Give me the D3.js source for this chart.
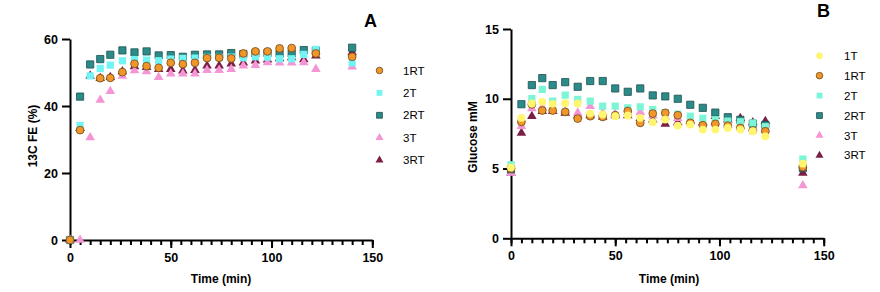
<!DOCTYPE html>
<html><head><meta charset="utf-8">
<script src="https://cdn.jsdelivr.net/npm/d3@7/dist/d3.min.js"></script>
<style>
body{margin:0;background:#fff;}
svg{display:block;font-family:"Liberation Sans",Arial,sans-serif;}
</style></head>
<body><svg id="c" width="880" height="292"></svg>
<script>
const times = [0,5,10,15,20,26,32,38,44,50,56,62,68,74,80,86,92,98,104,110,116,122,140];

// Panel A: 13C FE (%)
const seriesA = ["1RT","2T","2RT","3T","3RT"];
const A_1RT = [0,32.8,null,48.3,48.4,50.1,52.6,51.9,51.4,52.9,52.5,52.9,54.3,54.4,54.2,55.7,56.3,56.3,57.2,57.3,null,55.7,54.7];
const A_2T  = [0,34.2,49.0,51.2,52.2,53.5,53.9,53.7,53.5,54.0,54.2,54.3,54.5,54.5,54.6,54.4,54.7,54.6,54.1,54.1,55.4,56.9,52.9];
const A_2RT = [0,42.8,52.4,54.0,55.3,56.6,56.0,56.3,55.1,55.2,54.7,55.3,55.4,55.4,55.8,55.5,55.7,55.8,55.6,55.7,56.7,56.5,57.4];
const A_3T  = [0,0,30.6,41.8,44.4,49.0,50.6,50.3,48.6,49.6,49.6,49.6,50.7,50.7,51.0,52.0,52.2,53.0,52.9,52.9,53.0,51.0,51.7];
const A_3RT = [0,33.4,49.0,48.3,48.6,50.3,51.8,51.6,51.0,51.0,50.5,50.7,52.0,52.0,52.6,52.9,53.5,53.8,54.2,54.5,53.9,55.0,56.0];

// Panel B: Glucose mM
const seriesB = ["1T","1RT","2T","2RT","3T","3RT"];
const B_1T  = [5.08,8.63,9.66,9.78,9.64,9.68,9.66,8.94,8.87,8.75,8.8,8.63,8.32,8.51,8.08,8.15,7.79,7.79,7.91,7.79,7.67,7.31,5.35];
const B_1RT = [5.0,8.34,9.6,9.16,9.16,9.06,8.58,8.75,8.7,8.82,9.12,8.27,8.94,8.99,8.82,8.27,8.1,8.2,8.08,7.91,7.72,7.67,5.1];
const B_2T  = [5.27,8.4,10.02,10.67,9.83,10.26,9.95,9.83,9.47,9.47,9.35,9.42,9.23,9.0,8.9,8.75,8.6,8.5,8.4,8.35,8.27,8.0,5.68];
const B_2RT = [4.95,9.61,10.98,11.48,10.98,11.19,10.86,11.27,11.27,10.74,10.5,10.74,10.24,10.17,10.0,9.57,9.35,9.01,8.68,8.49,8.22,8.13,5.03];
const B_3T  = [4.68,8.03,9.3,9.4,9.2,9.1,8.99,9.47,9.0,8.9,9.0,9.04,8.8,8.7,8.6,8.4,8.3,8.3,8.1,8.0,7.9,7.8,3.78];
const B_3RT = [4.7,7.55,8.75,9.1,9.1,8.99,8.8,8.8,8.7,8.8,8.8,8.6,8.5,8.2,8.3,8.4,8.3,8.75,8.5,8.6,8.3,8.39,4.68];

const xTicks = [0,50,100,150];
const yTicksA = [0,20,40,60];
const yTicksB = [0,5,10,15];

const styles = {
  "1T":  {shape:"circle",  fill:"#FFF56E", stroke:"none"},
  "1RT": {shape:"circle",  fill:"#F2962A", stroke:"#6a4a1c"},
  "2T":  {shape:"square",  fill:"#72F4F4", stroke:"none"},
  "2RT": {shape:"square",  fill:"#2B8B89", stroke:"#1e4f4f"},
  "3T":  {shape:"triangle",fill:"#F496D6", stroke:"none"},
  "3RT": {shape:"triangle",fill:"#7A1F46", stroke:"none"}
};
const stylesB2T = {shape:"square", fill:"#7CF4D6", stroke:"none"};

const svg = d3.select("#c");

function sym(shape, size){
  const t = shape==="circle"?d3.symbolCircle:shape==="square"?d3.symbolSquare:d3.symbolTriangle;
  return d3.symbol().type(t).size(size)();
}

function panel(opt){
  const g = svg.append("g");
  const x = d3.scaleLinear().domain([0,150]).range(opt.xr);
  const y = d3.scaleLinear().domain(opt.yd).range(opt.yr);
  // minor x ticks
  g.append("g").attr("transform",`translate(0,${opt.yr[0]})`)
    .call(d3.axisBottom(x).tickValues(d3.range(0,151,5)).tickSize(5).tickSizeOuter(0).tickFormat(""))
    .call(a=>a.selectAll("line,path").attr("stroke","#000").attr("stroke-width",2));
  g.append("g").attr("transform",`translate(0,${opt.yr[0]})`)
    .call(d3.axisBottom(x).tickValues(xTicks).tickSize(8).tickSizeOuter(0).tickPadding(5))
    .call(a=>{a.select("path").remove();a.selectAll("line").attr("stroke","#000").attr("stroke-width",2);
      a.selectAll("text").attr("font-size",12.5).attr("font-weight","bold").attr("fill","#000");});
  g.append("g").attr("transform",`translate(${opt.xr[0]},0)`)
    .call(d3.axisLeft(y).tickValues(opt.yt).tickSize(8).tickSizeOuter(0).tickPadding(4))
    .call(a=>{a.selectAll("line,path").attr("stroke","#000").attr("stroke-width",2);
      a.selectAll("text").attr("font-size",12.5).attr("font-weight","bold").attr("fill","#000");});
  // axis titles
  g.append("text").attr("x",opt.xt[0]).attr("y",opt.xt[1]).attr("text-anchor","middle")
    .attr("font-size",12).attr("font-weight","bold").text("Time (min)");
  g.append("text").attr("transform",`translate(${opt.yl[0]},${opt.yl[1]}) rotate(-90)`).attr("text-anchor","middle")
    .attr("font-size",12).attr("font-weight","bold").text(opt.ylabel);
  g.append("text").attr("x",opt.letter[0]).attr("y",opt.letter[1]).attr("font-size",18).attr("font-weight","bold").text(opt.letterText);
  // data, first series drawn on top
  const ser = opt.series.slice().reverse();
  ser.forEach(s=>{
    const st = opt.style(s.name);
    const pts = times.map((t,i)=>({t,v:s.vals[i]})).filter(d=>d.v!=null);
    g.append("g").selectAll("path").data(pts).join("path")
      .attr("d", sym(st.shape, st.shape==="circle"?48:st.shape==="square"?52:40))
      .attr("transform",d=>`translate(${x(d.t)},${y(d.v)})`)
      .attr("fill",st.fill).attr("stroke",st.stroke).attr("stroke-width",st.stroke==="none"?0:0.8);
  });
  // legend
  opt.series.forEach((s,i)=>{
    const st = opt.style(s.name);
    const yy = opt.leg[1] + i*opt.leg[3];
    g.append("path").attr("d",sym(st.shape, st.shape==="circle"?34:st.shape==="square"?34:28))
      .attr("transform",`translate(${opt.leg[0]},${yy})`)
      .attr("fill",st.fill).attr("stroke",st.stroke).attr("stroke-width",st.stroke==="none"?0:0.8);
    g.append("text").attr("x",opt.leg[2]).attr("y",yy).attr("dy","0.35em")
      .attr("font-size",11.5).attr("fill","#000").text(s.name);
  });
}

panel({
  xr:[70,372.3], yd:[0,60], yr:[240,39], yt:yTicksA,
  xt:[221,283], yl:[37,136], ylabel:"13C FE (%)",
  letter:[364,27], letterText:"A",
  series:[{name:"1RT",vals:A_1RT},{name:"2T",vals:A_2T},{name:"2RT",vals:A_2RT},{name:"3T",vals:A_3T},{name:"3RT",vals:A_3RT}],
  style:n=>styles[n],
  leg:[379.5,70.5,403,22.4]
});
panel({
  xr:[511,823.7], yd:[0,15], yr:[238.3,29], yt:yTicksB,
  xt:[669,283], yl:[477,137], ylabel:"Glucose mM",
  letter:[817,17], letterText:"B",
  series:[{name:"1T",vals:B_1T},{name:"1RT",vals:B_1RT},{name:"2T",vals:B_2T},{name:"2RT",vals:B_2RT},{name:"3T",vals:B_3T},{name:"3RT",vals:B_3RT}],
  style:n=>n==="2T"?stylesB2T:styles[n],
  leg:[819.5,55.7,844,19.95]
});
</script></body></html>
